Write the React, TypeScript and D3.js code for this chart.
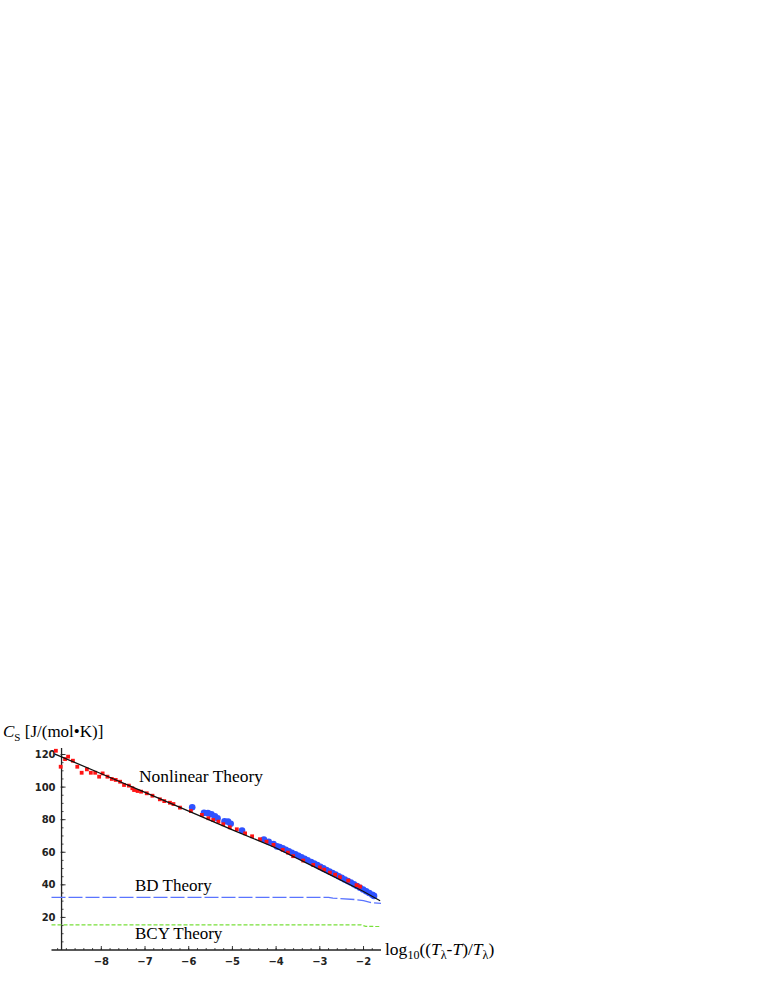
import React from "react";
import * as d3 from "d3";

// log10((Tλ-T)/Tλ) vs entropy-derived heat capacity C_S
const nonlinearX = [-9.06, -8, -7, -6, -5, -4, -3, -2, -1.62];
const nonlinearY = [120.3, 108.2, 96.8, 85.2, 73.8, 62.6, 49.3, 35.9, 30.2];

const bdX = [-9.14, -2.8, -2.7, -2.2, -2.0, -1.85, -1.6];
const bdY = [32.3, 32.3, 31.8, 31.0, 30.3, 29.2, 28.6];

const bcyX = [-9.14, -2.05, -1.95, -1.6];
const bcyY = [15.4, 15.4, 14.5, 14.4];

// red squares
const redX = [-9.04, -8.93, -8.83, -8.76, -8.65, -8.55, -8.45, -8.33, -8.24, -8.14, -8.05, -7.97, -7.86, -7.76, -7.67, -7.57, -7.48, -7.37, -7.29, -7.25, -7.17, -7.09, -6.96, -6.83, -6.66, -6.56, -6.43, -6.35, -6.2, -5.95, -5.7, -5.55, -5.44, -5.32, -5.21, -5.06, -4.9, -4.71, -4.55, -4.37, -4.22, -4.06, -3.85, -3.73, -3.61, -3.38, -3.15, -3.0, -2.9, -2.77, -2.65, -2.54, -2.35, -2.16, -2.08];
const redY = [122.3, 112.5, 117.2, 118.7, 116.2, 112.5, 108.8, 110.9, 108.8, 108.8, 106.4, 108.4, 106.4, 105, 104.4, 103.3, 101.3, 100.9, 99.3, 98.2, 97.6, 97.2, 96.2, 94.7, 92.5, 91.4, 90.4, 89.6, 87.4, 85.3, 82.9, 80.9, 79.8, 78.8, 77.2, 75.3, 74.1, 71.6, 69.8, 68, 66.5, 64.5, 61.5, 59.8, 57.6, 54.9, 52.2, 50.7, 49.3, 47.5, 46.2, 44.7, 42.6, 39.8, 38.9];

// blue circles
const blueX = [-5.92, -5.65, -5.56, -5.48, -5.4, -5.34, -5.18, -5.1, -5.04, -4.78, -4.28, -4.17, -4.06, -3.98, -3.92, -3.85, -3.78, -3.71, -3.64, -3.56, -3.49, -3.42, -3.35, -3.28, -3.2, -3.13, -3.06, -2.99, -2.92, -2.85, -2.78, -2.71, -2.64, -2.57, -2.5, -2.43, -2.36, -2.29, -2.22, -2.15, -2.08, -2.01, -1.94, -1.87, -1.8, -1.76];
const blueY = [87.6, 84.2, 84.0, 83.3, 82.0, 80.8, 79.0, 78.8, 77.5, 73.3, 67.8, 66.4, 65.0, 63.6, 63.2, 62.4, 61.5, 60.6, 59.7, 58.8, 57.8, 56.9, 56.0, 55.1, 54.0, 53.0, 52.1, 51.0, 50.1, 49.1, 48.2, 47.2, 46.3, 45.3, 44.3, 43.3, 42.3, 41.4, 40.3, 39.3, 38.2, 37.1, 36.0, 35.0, 33.9, 33.2];

const xTicks = [-8, -7, -6, -5, -4, -3, -2];
const yTicks = [20, 40, 60, 80, 100, 120];

const W = 758;
const H = 981;
const serif = "'Liberation Serif', 'Times New Roman', serif";
const tickFont = "'DejaVu Sans', sans-serif";

export default function App() {
  const x = d3.scaleLinear().domain([-9.14, -1.6]).range([51.5, 381]);
  const y = d3.scaleLinear().domain([0, 124]).range([950, 748]);
  const axisX = x(-8.91);
  const axisY = y(0);

  const line = (xs: number[], ys: number[]) =>
    d3.line<number>().x((d) => x(xs[d])).y((d) => y(ys[d]))(xs.map((_, i) => i)) || "";

  const minorX = d3.range(-9, -1.59, 0.2).filter((v) => v > -9.14 && v < -1.6);
  const minorY = d3.range(5, 124, 5);

  return (
    <div style={{ position: "absolute", left: 0, top: 0 }}>
      <svg width={W} height={H} style={{ display: "block", background: "#fff" }}>
        {/* axes */}
        <line x1={x(-9.14)} x2={x(-1.6)} y1={axisY} y2={axisY} stroke="#222" strokeWidth={1.3} />
        <line x1={axisX} x2={axisX} y1={axisY} y2={y(124)} stroke="#222" strokeWidth={1.3} />
        {minorX.map((v, i) => (
          <line key={"mx" + i} x1={x(v)} x2={x(v)} y1={axisY} y2={axisY - 2} stroke="#222" strokeWidth={0.8} />
        ))}
        {xTicks.map((v) => (
          <g key={"xt" + v}>
            <line x1={x(v)} x2={x(v)} y1={axisY} y2={axisY - 4} stroke="#222" strokeWidth={0.9} />
            <text x={x(v)} y={axisY + 15} textAnchor="middle" fontFamily={tickFont} fontWeight="bold" fontSize={10} fill="#222">
              {d3.format("d")(v).replace("-", "\u2212")}
            </text>
          </g>
        ))}
        {minorY.map((v) => (
          <line key={"my" + v} x1={axisX} x2={axisX + 2} y1={y(v)} y2={y(v)} stroke="#222" strokeWidth={0.8} />
        ))}
        {yTicks.map((v) => (
          <g key={"yt" + v}>
            <line x1={axisX - 1} x2={axisX + 4} y1={y(v)} y2={y(v)} stroke="#222" strokeWidth={0.9} />
            <text x={axisX - 6} y={y(v) + 3.6} textAnchor="end" fontFamily={tickFont} fontWeight="bold" fontSize={10} fill="#222">
              {v}
            </text>
          </g>
        ))}

        {/* theory curves */}
        <path d={line(bdX, bdY)} fill="none" stroke="#5a74ff" strokeWidth={1.3} strokeDasharray="14,3" />
        <path d={line(bcyX, bcyY)} fill="none" stroke="#78e03a" strokeWidth={1.2} strokeDasharray="4,2" />

        {/* data */}
        {blueX.map((v, i) => (
          <circle key={"b" + i} cx={x(v)} cy={y(blueY[i])} r={3.3} fill="#2f52ff" />
        ))}
        {redX.map((v, i) => (
          <rect key={"r" + i} x={x(v) - 1.9} y={y(redY[i]) - 1.9} width={3.8} height={3.8} fill="#ff1414" />
        ))}
        <path d={line(nonlinearX, nonlinearY)} fill="none" stroke="#111" strokeWidth={1.3} />

        {/* labels */}
        <text x={139} y={781.5} fontFamily={serif} fontSize={17} textLength={124} lengthAdjust="spacingAndGlyphs">Nonlinear Theory</text>
        <text x={135} y={890.5} fontFamily={serif} fontSize={17}>BD Theory</text>
        <text x={135} y={938.5} fontFamily={serif} fontSize={17}>BCY Theory</text>

        <text x={3} y={736.5} fontFamily={serif} fontSize={17}>
          <tspan fontStyle="italic">C</tspan>
          <tspan fontSize={11} dy={4}>S</tspan>
          <tspan dy={-4}> [J/(mol•K)]</tspan>
        </text>

        <text x={385} y={955} fontFamily={serif} fontSize={17.5}>
          <tspan>log</tspan>
          <tspan fontSize={12} dy={4}>10</tspan>
          <tspan dy={-4}>((</tspan>
          <tspan fontStyle="italic">T</tspan>
          <tspan fontSize={12} dy={4}>λ</tspan>
          <tspan dy={-4}>-</tspan>
          <tspan fontStyle="italic">T</tspan>
          <tspan>)/</tspan>
          <tspan fontStyle="italic">T</tspan>
          <tspan fontSize={12} dy={4}>λ</tspan>
          <tspan dy={-4}>)</tspan>
        </text>
      </svg>
    </div>
  );
}
